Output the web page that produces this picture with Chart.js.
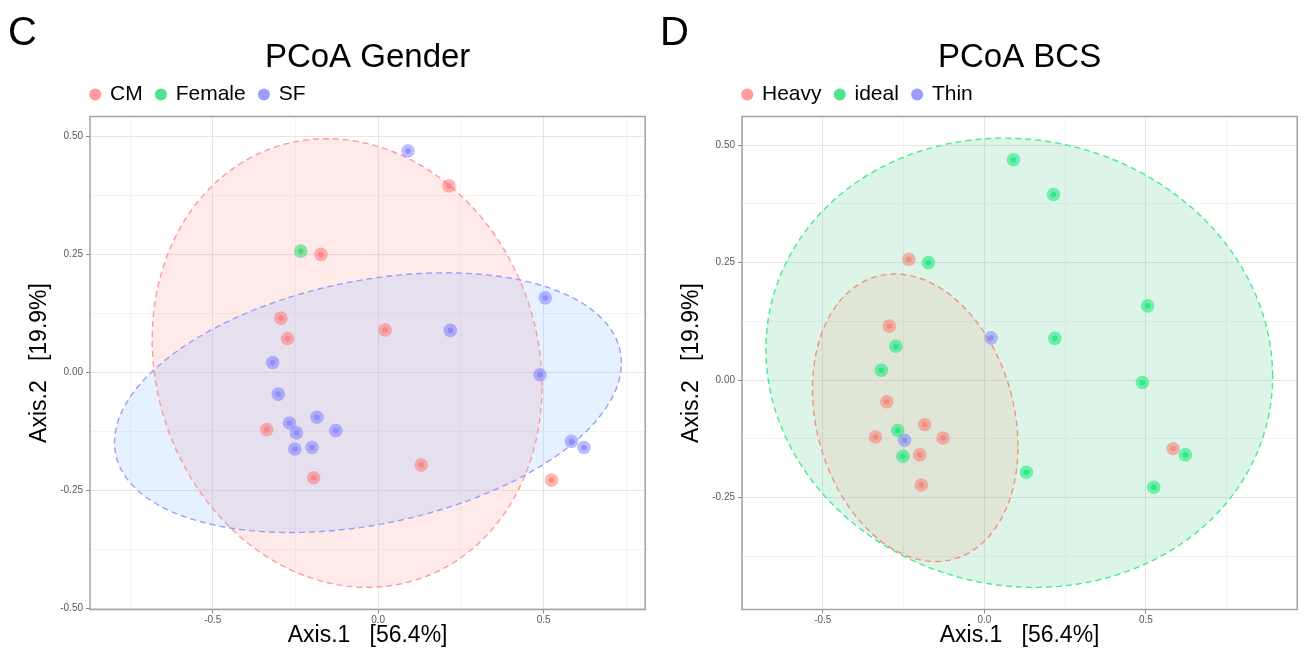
<!DOCTYPE html>
<html>
<head>
<meta charset="utf-8">
<title>PCoA Gender / PCoA BCS</title>
<script src="https://cdn.jsdelivr.net/npm/chart.js@4.4.0/dist/chart.umd.min.js"></script>
<style>
  html, body { margin: 0; padding: 0; background: #fff; }
  .wrap { position: relative; width: 1304px; height: 650px; overflow: hidden; }
  .panel { position: absolute; top: 0; width: 652px; height: 650px; }
  .panel canvas { display: block; }
  .tag {
    position: absolute; top: 11px;
    font: 40px/40px "Liberation Sans", Arial, Helvetica, sans-serif;
    color: #000;
  }
</style>
</head>
<body>
<div class="wrap">
  <div class="panel" style="left:0">
    <canvas id="gender" width="652" height="650"></canvas>
    <div class="tag" style="left:8px">C</div>
  </div>
  <div class="panel" style="left:652px">
    <canvas id="bcs" width="652" height="650"></canvas>
    <div class="tag" style="left:8px">D</div>
  </div>
</div>
<script>
const FONT = '"Liberation Sans", Arial, Helvetica, sans-serif';

// the same 24 samples are plotted in both panels, only the grouping changes
const axis1 = [-0.173, -0.234, -0.294, -0.274, 0.214, 0.021, -0.337, -0.195, 0.130, 0.524,
               0.090, 0.505, 0.218, -0.319, -0.302, -0.268, -0.247, -0.185, -0.128, -0.252,
               -0.200, 0.489, 0.584, 0.622];
const axis2 = [0.250, 0.257, 0.115, 0.072, 0.395, 0.090, -0.121, -0.223, -0.196, -0.228,
               0.469, 0.158, 0.089, 0.021, -0.046, -0.107, -0.128, -0.095, -0.123, -0.162,
               -0.159, -0.005, -0.146, -0.159];
const genderGroup = ['CM', 'Female', 'CM', 'CM', 'CM', 'CM', 'CM', 'CM', 'CM', 'CM',
                     'SF', 'SF', 'SF', 'SF', 'SF', 'SF', 'SF', 'SF', 'SF', 'SF',
                     'SF', 'SF', 'SF', 'SF'];
const bcsGroup = ['ideal', 'Heavy', 'Heavy', 'ideal', 'ideal', 'Thin', 'Heavy', 'Heavy', 'ideal', 'ideal',
                  'ideal', 'ideal', 'ideal', 'ideal', 'Heavy', 'ideal', 'Thin', 'Heavy', 'Heavy', 'ideal',
                  'Heavy', 'ideal', 'Heavy', 'ideal'];

const genderLevels = ['CM', 'Female', 'SF'];
const bcsLevels = ['Heavy', 'ideal', 'Thin'];

// axis ticks
const xMajor = [-0.5, 0, 0.5];
const xLabels = ['-0.5', '0.0', '0.5'];
const xMinor = [-0.75, -0.25, 0.25, 0.75];
const genderYMajor = [-0.5, -0.25, 0, 0.25, 0.5];
const genderYLabels = ['-0.50', '-0.25', '0.00', '0.25', '0.50'];
const bcsYMajor = [-0.25, 0, 0.25, 0.5];
const bcsYLabels = ['-0.25', '0.00', '0.25', '0.50'];
const yMinor = [-0.375, -0.125, 0.125, 0.375];

// ellipses: [centre x, centre y, half width, half height, tilt phase]
const cmEllipse = [-0.094, 0.020, 0.589, 0.475, -0.104];
const sfEllipse = [-0.031, -0.064, 0.766, 0.275, 0.31];
const idealEllipse = [0.108, 0.037, 0.784, 0.478, -0.06];
const heavyEllipse = [-0.214, -0.080, 0.318, 0.306, -0.2];

const genderColors = {
  CM:     { pt: [255, 110, 110], legend: '#FF9C9C', line: '#FF9A9A', fill: 'rgba(255,130,130,0.17)' },
  Female: { pt: [30, 215, 95],   legend: '#4FE48C' },
  SF:     { pt: [120, 120, 255], legend: '#9D9DFF', line: '#9C9CFF', fill: 'rgba(120,180,255,0.19)' }
};
const bcsColors = {
  Heavy: { pt: [250, 115, 105], legend: '#FF9C9C', line: '#F4917F', fill: 'rgba(240,125,110,0.13)' },
  ideal: { pt: [0, 232, 110],   legend: '#4FE48C', line: '#46EC88', fill: 'rgba(40,195,115,0.16)' },
  Thin:  { pt: [120, 125, 245], legend: '#9D9DFF' }
};

const rgba = (c, a) => `rgba(${c[0]},${c[1]},${c[2]},${a})`;

function buildDatasets(groups, levels, colors) {
  const pick = level => axis1
    .map((x, i) => ({ x, y: axis2[i], g: groups[i] }))
    .filter(p => p.g === level)
    .map(p => ({ x: p.x, y: p.y }));
  const halos = levels.map(level => ({
    label: level,
    data: pick(level),
    pointStyle: 'circle',
    pointRadius: 6.8,
    backgroundColor: rgba(colors[level].pt, 0.5),
    borderWidth: 0,
    order: 2
  }));
  const cores = levels.map(level => ({
    label: level,
    core: true,
    data: pick(level),
    pointStyle: 'circle',
    pointRadius: 2.8,
    backgroundColor: rgba(colors[level].pt, 0.6),
    borderWidth: 0,
    order: 1
  }));
  return halos.concat(cores);
}

const ellipsePlugin = {
  id: 'ellipses',
  beforeDatasetsDraw(chart, args, opts) {
    const { ctx, chartArea: a, scales: { x, y } } = chart;
    ctx.save();
    ctx.beginPath();
    ctx.rect(a.left, a.top, a.right - a.left, a.bottom - a.top);
    ctx.clip();
    const paths = opts.list.map(e => {
      const p = new Path2D();
      const [cx, cy, rx, ry, ph] = e.par;
      for (let k = 0; k <= 240; k++) {
        const t = k / 240 * Math.PI * 2;
        const px = x.getPixelForValue(cx + rx * Math.cos(t));
        const py = y.getPixelForValue(cy + ry * Math.sin(t + ph));
        if (k) p.lineTo(px, py); else p.moveTo(px, py);
      }
      p.closePath();
      return p;
    });
    opts.list.forEach((e, i) => { ctx.fillStyle = e.fill; ctx.fill(paths[i]); });
    ctx.setLineDash([6, 4]);
    ctx.lineWidth = 1.4;
    opts.list.forEach((e, i) => { ctx.strokeStyle = e.line; ctx.stroke(paths[i]); });
    ctx.restore();
  }
};

const panelBorder = {
  id: 'panelBorder',
  afterDraw(chart) {
    const { ctx, chartArea: a } = chart;
    ctx.save();
    ctx.strokeStyle = '#A3A3A3';
    ctx.lineWidth = 1.5;
    ctx.strokeRect(a.left, a.top, a.right - a.left, a.bottom - a.top);
    ctx.restore();
  }
};

// ggplot puts the title over the panel and the legend flush left, move them there
const placeHeader = {
  id: 'placeHeader',
  afterLayout(chart) {
    const a = chart.chartArea;
    const t = chart.titleBlock;
    if (t) {
      t.left = a.left; t.right = a.right; t.width = a.right - a.left;
      t.top = 38.5; t.bottom = t.top + 39.6;
    }
    const l = chart.legend;
    if (l) {
      l.left = 77;
      l.top = 70;
    }
  }
};

function makeChart(id, title, groups, levels, colors, xRange, yRange, yMajor, yLabels, ellipses) {
  const isMajor = (arr, v) => arr.indexOf(v) >= 0;
  const gridColor = arr => c => (c.tick && isMajor(arr, c.tick.value)) ? '#E6E6E6' : '#F3F3F3';
  const tickColor = arr => c => (c.tick && isMajor(arr, c.tick.value)) ? '#8A8A8A' : 'rgba(0,0,0,0)';

  return new Chart(document.getElementById(id), {
    type: 'scatter',
    data: { datasets: buildDatasets(groups, levels, colors) },
    plugins: [ellipsePlugin, panelBorder, placeHeader],
    options: {
      responsive: false,
      animation: false,
      events: [],
      layout: { padding: { top: 31.9, left: 0, right: 3.5, bottom: 0 } },
      plugins: {
        tooltip: { enabled: false },
        title: {
          display: true,
          text: title,
          color: '#000',
          font: { family: FONT, size: 33, weight: 'normal', lineHeight: 1.2 },
          padding: { top: 0, bottom: 0 }
        },
        legend: {
          display: true,
          position: 'top',
          align: 'start',
          labels: {
            usePointStyle: true,
            boxWidth: 8.5,
            boxHeight: 8.5,
            padding: 14,
            color: '#000',
            font: { family: FONT, size: 21 },
            generateLabels(chart) {
              const items = Chart.defaults.plugins.legend.labels.generateLabels(chart);
              return items
                .filter(it => !chart.data.datasets[it.datasetIndex].core)
                .map(it => Object.assign(it, {
                  fillStyle: colors[it.text].legend,
                  strokeStyle: colors[it.text].legend,
                  lineWidth: 0,
                  pointStyle: 'circle'
                }));
            }
          }
        },
        ellipses: { list: ellipses }
      },
      scales: {
        x: {
          type: 'linear',
          min: xRange[0],
          max: xRange[1],
          afterBuildTicks: s => {
            s.ticks = xMajor.concat(xMinor).sort((p, q) => p - q).map(v => ({ value: v }));
          },
          afterFit: s => { s.height = 40.5; },
          ticks: {
            autoSkip: false,
            maxRotation: 0,
            padding: 1,
            color: '#5A5A5A',
            font: { family: FONT, size: 10 },
            callback: v => { const i = xMajor.indexOf(v); return i < 0 ? '' : xLabels[i]; }
          },
          grid: { color: gridColor(xMajor), tickColor: tickColor(xMajor), tickLength: 4, lineWidth: 1 },
          border: { display: false },
          title: {
            display: true,
            text: 'Axis.1   [56.4%]',
            color: '#000',
            font: { family: FONT, size: 23, lineHeight: 1.2 },
            padding: { top: 0, bottom: 0.2 }
          }
        },
        y: {
          type: 'linear',
          min: yRange[0],
          max: yRange[1],
          afterBuildTicks: s => {
            s.ticks = yMajor.concat(yMinor).filter(v => v >= yRange[0] && v <= yRange[1])
              .sort((p, q) => p - q).map(v => ({ value: v }));
          },
          afterFit: s => { s.width = 90; },
          ticks: {
            autoSkip: false,
            padding: 3,
            color: '#5A5A5A',
            font: { family: FONT, size: 10 },
            callback: v => { const i = yMajor.indexOf(v); return i < 0 ? '' : yLabels[i]; }
          },
          grid: { color: gridColor(yMajor), tickColor: tickColor(yMajor), tickLength: 4, lineWidth: 1 },
          border: { display: false },
          title: {
            display: true,
            text: 'Axis.2   [19.9%]',
            color: '#000',
            font: { family: FONT, size: 23, lineHeight: 1.2 },
            padding: { top: 26.2, bottom: 0 }
          }
        }
      }
    }
  });
}

makeChart('gender', 'PCoA Gender', genderGroup, genderLevels, genderColors,
  [-0.871, 0.807], [-0.502, 0.542], genderYMajor, genderYLabels,
  [
    { par: cmEllipse, fill: genderColors.CM.fill, line: genderColors.CM.line },
    { par: sfEllipse, fill: genderColors.SF.fill, line: genderColors.SF.line }
  ]);

makeChart('bcs', 'PCoA BCS', bcsGroup, bcsLevels, bcsColors,
  [-0.750, 0.968], [-0.488, 0.561], bcsYMajor, bcsYLabels,
  [
    { par: idealEllipse, fill: bcsColors.ideal.fill, line: bcsColors.ideal.line },
    { par: heavyEllipse, fill: bcsColors.Heavy.fill, line: bcsColors.Heavy.line }
  ]);
</script>
</body>
</html>
